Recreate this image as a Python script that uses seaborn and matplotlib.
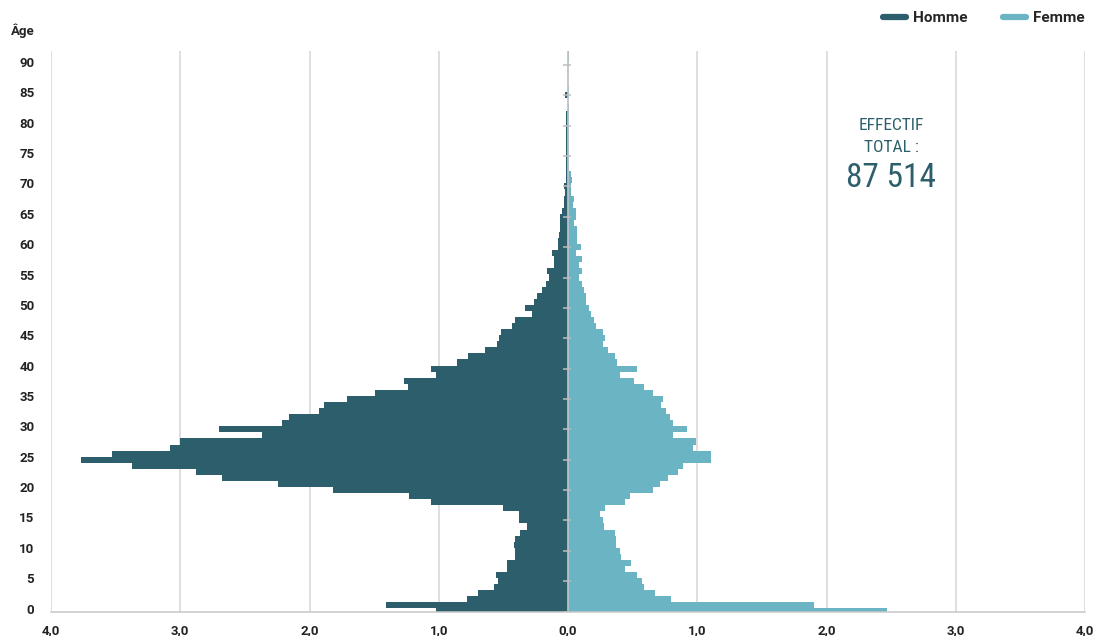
import matplotlib
matplotlib.use('Agg')
import pandas as pd
import matplotlib.pyplot as plt
import matplotlib.transforms as mtransforms
import seaborn as sns
from matplotlib.lines import Line2D
from matplotlib import font_manager


def pick_font(*names):
    for name in names:
        try:
            font_manager.findfont(name, fallback_to_default=False)
            return name
        except ValueError:
            pass
    return 'DejaVu Sans'


# Pyramid data: share of total headcount (%) per single year of age
ages = list(range(93))
homme = [
    1.02, 1.41, 0.78, 0.70, 0.57, 0.54, 0.56, 0.47, 0.47, 0.41,
    0.41, 0.42, 0.41, 0.37, 0.32, 0.38, 0.38, 0.50, 1.06, 1.23,
    1.82, 2.24, 2.68, 2.88, 3.37, 3.77, 3.53, 3.08, 3.00, 2.37,
    2.70, 2.21, 2.16, 1.93, 1.89, 1.71, 1.49, 1.24, 1.27, 1.02,
    1.06, 0.86, 0.77, 0.64, 0.55, 0.53, 0.52, 0.43, 0.41, 0.28,
    0.33, 0.26, 0.24, 0.20, 0.17, 0.15, 0.16, 0.11, 0.11, 0.12,
    0.08, 0.08, 0.07, 0.06, 0.06, 0.06, 0.045, 0.03, 0.03, 0.02,
    0.03, 0.015, 0.015, 0.015, 0.015, 0.015, 0.015, 0.015, 0.015, 0.015,
    0.015, 0.015, 0.015, 0.0, 0.0, 0.02, 0.0, 0.0, 0.0, 0.0,
    0.0, 0.0, 0.0,
]
femme = [
    2.47, 1.90, 0.80, 0.67, 0.59, 0.57, 0.53, 0.44, 0.49, 0.41,
    0.40, 0.37, 0.37, 0.36, 0.28, 0.27, 0.25, 0.29, 0.44, 0.48,
    0.66, 0.71, 0.77, 0.85, 0.89, 1.11, 1.11, 0.97, 0.99, 0.81,
    0.92, 0.81, 0.79, 0.76, 0.72, 0.735, 0.66, 0.59, 0.51, 0.40,
    0.53, 0.38, 0.36, 0.31, 0.27, 0.29, 0.27, 0.22, 0.20, 0.18,
    0.16, 0.14, 0.14, 0.12, 0.11, 0.085, 0.11, 0.085, 0.11, 0.06,
    0.10, 0.07, 0.07, 0.07, 0.05, 0.06, 0.06, 0.04, 0.05, 0.02,
    0.02, 0.03, 0.02, 0.01, 0.01, 0.01, 0.01, 0.01, 0.01, 0.01,
    0.01, 0.01, 0.01, 0.01, 0.0, 0.008, 0.008, 0.0, 0.0, 0.0,
    0.0, 0.006, 0.006,
]
x_ticks = [-4, -3, -2, -1, 0, 1, 2, 3, 4]
x_tick_labels = ['4,0', '3,0', '2,0', '1,0', '0,0', '1,0', '2,0', '3,0', '4,0']
y_ticks = list(range(0, 91, 5))
total_effectif = '87 514'

dark = '#2c5f6b'
light = '#6ab4c4'
grey = '#d6d6d6'

df = pd.concat([
    pd.DataFrame({'age': ages, 'valeur': [-v for v in homme], 'sexe': 'Homme'}),
    pd.DataFrame({'age': ages, 'valeur': femme, 'sexe': 'Femme'}),
])

sns.set_style('white')
main_font = pick_font('Roboto', 'Lato', 'DejaVu Sans')
narrow_font = pick_font('Liberation Sans Narrow', 'Roboto Condensed', 'Roboto')
plt.rcParams['font.family'] = [main_font, 'DejaVu Sans']

fig = plt.figure(figsize=(11.04, 6.36), dpi=100)
ax = fig.add_axes([51 / 1104, 24.5 / 636, 1034 / 1104, 560.5 / 636])

sns.barplot(
    data=df, x='valeur', y='age', hue='sexe',
    palette={'Homme': dark, 'Femme': light},
    orient='h', native_scale=True, width=1.0, dodge=False,
    saturation=1, errorbar=None, linewidth=0, legend=False, ax=ax,
)

ax.set_xlim(-4, 4)
ax.set_ylim(0, 92.3)
ax.set_xlabel('')
ax.set_ylabel('')

ax.set_xticks(x_ticks)
ax.set_xticklabels(x_tick_labels)
ax.set_yticks(y_ticks)
ax.set_yticklabels([str(a) for a in y_ticks])
ax.tick_params(axis='y', length=5, width=1, color='#c4c4c4', pad=7,
               labelsize=9.5, labelcolor='#222222')
ax.tick_params(axis='x', length=3, width=1, color='#c4c4c4', pad=6,
               labelsize=9.5, labelcolor='#222222')
for lab in ax.get_xticklabels() + ax.get_yticklabels():
    lab.set_fontweight('semibold')
# age labels sit a little above their tick marks
lift = mtransforms.ScaledTranslation(0, 3 / 100, fig.dpi_scale_trans)
for lab in ax.get_yticklabels():
    lab.set_transform(lab.get_transform() + lift)

ax.grid(axis='x', color=grey, lw=1.1)
ax.grid(axis='y', visible=False)
ax.set_axisbelow(True)
for side in ['top', 'right', 'left']:
    ax.spines[side].set_visible(False)
ax.spines['bottom'].set_color('#c8c8c8')
ax.spines['bottom'].set_linewidth(1.1)

# central axis with its own small ticks
ax.axvline(0, color='#c4c4c4', lw=1.2, zorder=3)
ax.hlines(y_ticks, -0.04, 0.025, color='#bdbdbd', lw=1.1, zorder=3)

fig.text(23 / 1104, 1 - 31 / 636, 'Âge', ha='center', va='center',
         fontsize=9.5, fontweight='semibold', color='#222222')

# total headcount annotation
fig.text(891 / 1104, 1 - 125 / 636, 'EFFECTIF', ha='center', va='center',
         fontsize=12.5, color=dark, family=narrow_font)
fig.text(891 / 1104, 1 - 147 / 636, 'TOTAL :', ha='center', va='center',
         fontsize=12.5, color=dark, family=narrow_font)
fig.text(891 / 1104, 1 - 178 / 636, total_effectif, ha='center', va='center',
         fontsize=24, color=dark, family=narrow_font)

handles = [
    Line2D([], [], color=dark, lw=4.5, solid_capstyle='round'),
    Line2D([], [], color=light, lw=4.5, solid_capstyle='round'),
]
fig.legend(handles, ['Homme', 'Femme'], loc='center right',
           bbox_to_anchor=(1085 / 1104, 1 - 18 / 636), ncol=2, frameon=False,
           handlelength=1.5, handletextpad=0.5, columnspacing=2.3,
           borderpad=0, borderaxespad=0,
           prop={'size': 11, 'weight': 'semibold', 'family': main_font})

fig.savefig('out.png', dpi=100, facecolor='white')
